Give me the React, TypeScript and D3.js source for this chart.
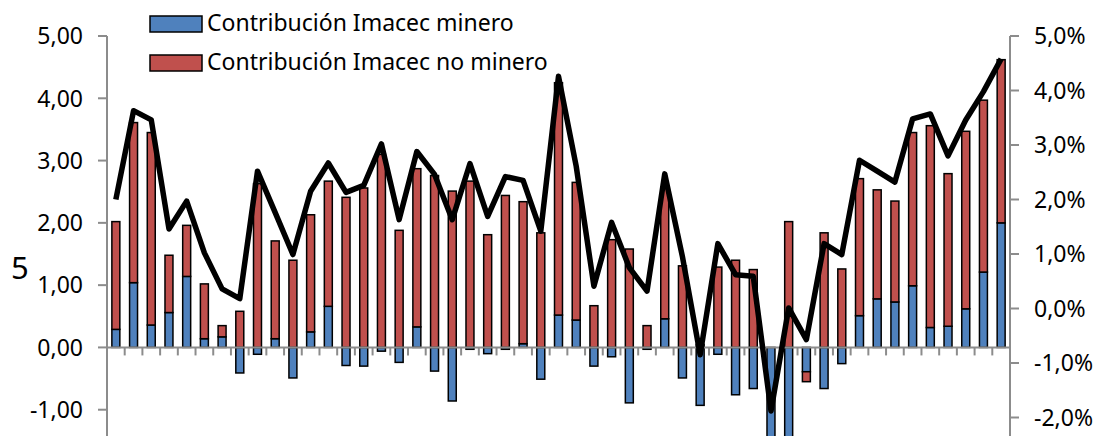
import React from 'react';
import * as d3 from 'd3';

// Contribución al crecimiento del Imacec (pp) y variación anual (%)
const mining = [0.29, 1.04, 0.36, 0.56, 1.14, 0.14, 0.17, -0.41, -0.11, 0.14, -0.49, 0.25, 0.66, -0.29, -0.30, -0.06, -0.24, 0.33, -0.38, -0.86, -0.03, -0.10, -0.03, 0.06, -0.51, 0.52, 0.44, -0.30, -0.15, -0.89, -0.03, 0.46, -0.49, -0.93, -0.11, -0.76, -0.66, -1.88, -2.01, -0.39, -0.66, -0.26, 0.51, 0.78, 0.73, 0.99, 0.32, 0.34, 0.62, 1.21, 2.00];
const nonMining = [1.73, 2.57, 3.09, 0.92, 0.82, 0.88, 0.18, 0.58, 2.63, 1.57, 1.40, 1.88, 2.01, 2.41, 2.56, 3.10, 1.88, 2.54, 2.76, 2.51, 2.67, 1.81, 2.44, 2.28, 1.84, 3.73, 2.21, 0.67, 1.73, 1.58, 0.35, 2.11, 1.31, 0.05, 1.29, 1.40, 1.25, 0.00, 2.02, -0.16, 1.84, 1.26, 2.20, 1.75, 1.62, 2.46, 3.24, 2.45, 2.85, 2.76, 2.62];
const imacec = [2.0, 3.63, 3.46, 1.46, 1.97, 1.02, 0.36, 0.18, 2.52, 1.76, 0.99, 2.15, 2.67, 2.13, 2.26, 3.02, 1.63, 2.88, 2.46, 1.63, 2.66, 1.69, 2.42, 2.35, 1.42, 4.26, 2.61, 0.41, 1.58, 0.75, 0.32, 2.47, 0.95, -0.85, 1.19, 0.62, 0.59, -1.88, 0.01, -0.57, 1.19, 0.99, 2.72, 2.52, 2.32, 3.48, 3.57, 2.80, 3.46, 3.98, 4.58];
// visible tick labels (the axes run on to -2 / -3 below the picture's edge)
const leftTicks = [-1, 0, 1, 2, 3, 4, 5];
const rightTicks = [-2, -1, 0, 1, 2, 3, 4, 5];
const seriesNames = ['Contribución Imacec minero', 'Contribución Imacec no minero'];

const BLUE = '#4F81BD';
const RED = '#C0504D';
const AXIS = '#8c8c8c';
const FONT = '"Noto Sans", sans-serif';

const App: React.FC = () => {
  const width = 1100;
  const height = 436;
  const plot = { left: 107, right: 1010, top: 36, bottom: 472 };

  const categories = mining.map((_, i) => i);
  const x = d3.scaleBand<number>().domain(categories).range([plot.left, plot.right]).paddingInner(0.55).paddingOuter(0.275);
  const band = d3.scaleBand<number>().domain(categories).range([plot.left, plot.right]);
  const yL = d3.scaleLinear().domain([-2, 5]).range([plot.bottom, plot.top]);
  const yR = d3.scaleLinear().domain([-3, 5]).range([plot.bottom, plot.top]);
  const fmtL = (v: number) => d3.format('.2f')(v).replace('.', ',').replace('−', '-');
  const fmtR = (v: number) => d3.format('.1f')(v).replace('.', ',').replace('−', '-') + '%';

  // stacked segments, positives and negatives stacked apart
  const bars = categories.map((i) => {
    const segs: { y0: number; y1: number; color: string }[] = [];
    let pos = 0;
    let neg = 0;
    [[mining[i], BLUE], [nonMining[i], RED]].forEach(([v, c]) => {
      const val = v as number;
      if (val >= 0) {
        segs.push({ y0: pos, y1: pos + val, color: c as string });
        pos += val;
      } else {
        segs.push({ y0: neg + val, y1: neg, color: c as string });
        neg += val;
      }
    });
    return segs;
  });

  const line = d3
    .line<number>()
    .x((_, i) => (x(i) as number) + x.bandwidth() / 2)
    .y((d) => yR(d));

  const zeroY = yL(0);

  return (
    <svg width={width} height={height} style={{ position: 'absolute', left: 0, top: 0, background: '#fff' }} fontFamily={FONT}>
      {/* bars */}
      {bars.map((segs, i) =>
        segs
          .filter((s) => s.y1 - s.y0 > 0)
          .map((s, j) => (
            <rect
              key={`${i}-${j}`}
              x={x(i)}
              width={x.bandwidth()}
              y={yL(s.y1)}
              height={yL(s.y0) - yL(s.y1)}
              fill={s.color}
              stroke="#000"
              strokeWidth={1.5}
            />
          ))
      )}

      {/* category axis */}
      <line x1={plot.left} x2={plot.right} y1={zeroY} y2={zeroY} stroke={AXIS} strokeWidth={2} />
      {categories.slice(1).map((i) => (
        <line key={i} x1={band(i)} x2={band(i)} y1={zeroY} y2={zeroY + 8} stroke={AXIS} strokeWidth={2} />
      ))}

      {/* left axis */}
      <line x1={plot.left} x2={plot.left} y1={plot.top} y2={plot.bottom} stroke={AXIS} strokeWidth={2} />
      {leftTicks.map((t) => (
        <g key={t}>
          <line x1={plot.left - 9} x2={plot.left} y1={yL(t)} y2={yL(t)} stroke={AXIS} strokeWidth={2} />
          <text x={83} y={yL(t)} dy="0.36em" textAnchor="end" fontSize={23} fill="#000">
            {fmtL(t)}
          </text>
        </g>
      ))}

      {/* right axis */}
      <line x1={plot.right} x2={plot.right} y1={plot.top} y2={plot.bottom} stroke={AXIS} strokeWidth={2} />
      {rightTicks.map((t) => (
        <g key={t}>
          <line x1={plot.right} x2={plot.right + 9} y1={yR(t)} y2={yR(t)} stroke={AXIS} strokeWidth={2} />
          <text x={1034} y={yR(t)} dy="0.36em" textAnchor="start" fontSize={23} fill="#000">
            {fmtR(t)}
          </text>
        </g>
      ))}

      {/* Imacec line */}
      <path d={line(imacec) || ''} fill="none" stroke="#000" strokeWidth={5.5} strokeLinejoin="round" />

      {/* axis title */}
      <text x={11} y={279} fontSize={31} fill="#000">
        5
      </text>

      {/* legend */}
      {seriesNames.map((name, i) => (
        <g key={name} transform={`translate(150, ${16 + i * 39})`}>
          <rect x={0} y={0} width={52} height={16} fill={i === 0 ? BLUE : RED} stroke="#000" strokeWidth={1.5} />
          <text x={57} y={15} fontSize={23} fill="#000">
            {name}
          </text>
        </g>
      ))}
    </svg>
  );
};

export default App;
